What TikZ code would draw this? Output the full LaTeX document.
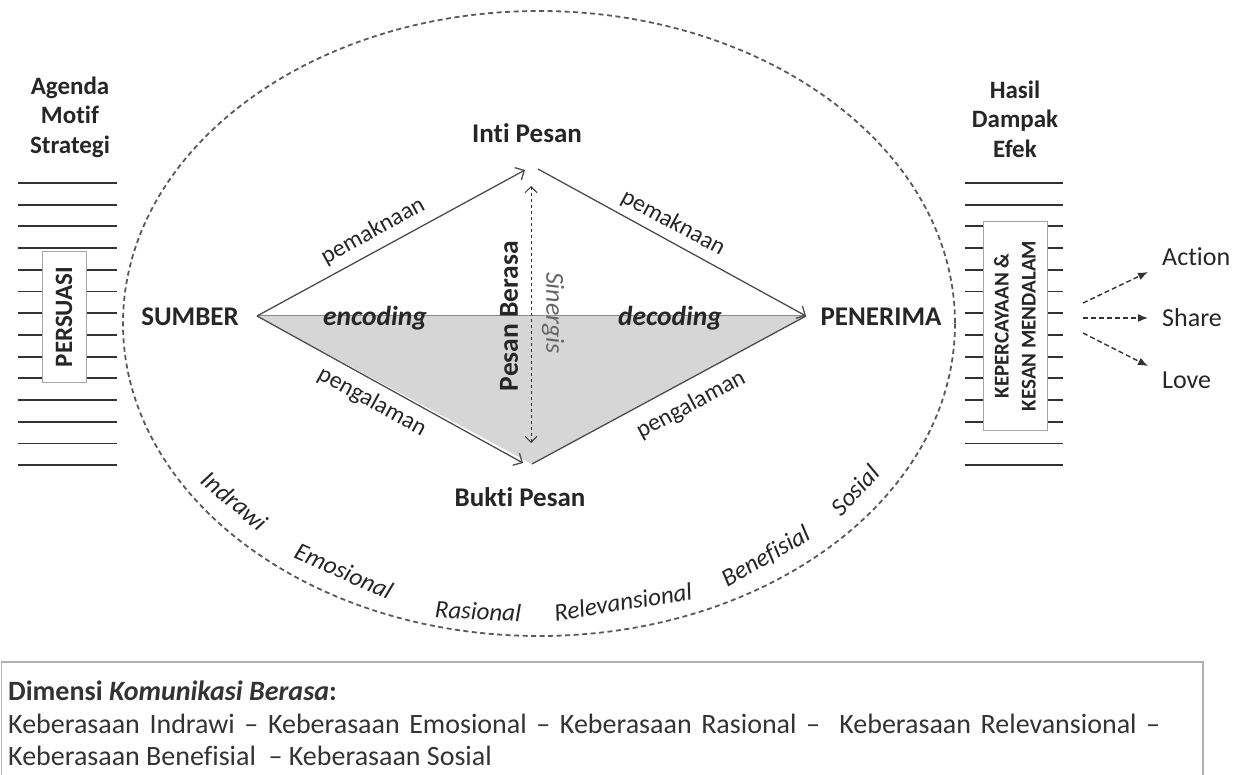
\documentclass[tikz,border=0pt]{standalone}
\usepackage{fontspec}
\setmainfont{Carlito}[Ligatures={TeX,NoCommon}]
\usetikzlibrary{arrows.meta}
\begin{document}
\begin{tikzpicture}[x=1pt,y=-1pt,
  big/.style={font=\fontsize{27}{30}\selectfont\bfseries, inner sep=0pt, text=black!85},
  head/.style={font=\fontsize{25}{29.5}\selectfont\bfseries, inner sep=0pt, align=center, text=black!85},
  edgelbl/.style={font=\fontsize{24}{26}\selectfont, inner sep=0pt, text=black!85},
  codelbl/.style={font=\fontsize{27.5}{30}\selectfont\bfseries\itshape, inner sep=0pt, text=black!85},
  dimlbl/.style={font=\fontsize{25}{28}\selectfont\itshape, inner sep=0pt, text=black!85},
  outlbl/.style={font=\fontsize{26}{28}\selectfont, inner sep=0pt, anchor=west, text=black!85},
  boxtxt/.style={font=\fontsize{28}{33}\selectfont, inner sep=0pt, anchor=base west, text=black!80},
  stackline/.style={line width=1.8pt, draw=black!80},
  edge/.style={line width=1.3pt, draw=black!70},
  tip/.style={-{Straight Barb[length=7pt,width=14pt,line width=1.3pt]}},
  sinarrow/.style={dashed, line width=1pt, draw=black!80, {Straight Barb[length=6pt,width=12pt]}-{Straight Barb[length=6pt,width=12pt]}},
  fanarrow/.style={dash pattern=on 5pt off 3pt, line width=1.4pt, draw=black!80, -{Latex[length=10pt,width=8pt]}},
  inbox/.style={draw=black!35, line width=1pt, fill=white}
]
\useasboundingbox (0,0) rectangle (1241,775);

% ellipse
\draw[dash pattern=on 5pt off 3.5pt, line width=1.8pt, draw=black!65] (539,323.5) ellipse [x radius=416, y radius=312.5];

% left stack
\foreach \k in {0,...,13} \draw[stackline] (18,183+21.7*\k) -- (117,183+21.7*\k);
\node[inbox, minimum width=44pt, minimum height=130pt, inner sep=0pt] (persbox) at (64,317) {};
\node[font=\fontsize{25}{28}\selectfont\bfseries, rotate=90, text=black!85] (persuasi) at (persbox.center) {PERSUASI};
\node[head] (agenda) at (70,117) {Agenda\\Motif\\Strategi};

% right stack
\foreach \k in {0,...,13} \draw[stackline] (965,183+21.7*\k) -- (1063,183+21.7*\k);
\node[inbox, minimum width=64pt, minimum height=208pt, inner sep=0pt] (kepbox) at (1015,326) {};
\node[font=\fontsize{21}{27}\selectfont\bfseries, rotate=90, align=center, text=black!85] (kep) at (kepbox.center) {KEPERCAYAAN \&\\KESAN MENDALAM};
\node[head] (hasil) at (1015,119) {Hasil\\Dampak\\Efek};

% diamond
\coordinate (S) at (257,316);
\coordinate (Ttip) at (525,170);
\coordinate (Tstart) at (538,169);
\coordinate (R) at (806,316);
\coordinate (B) at (532,464);
\coordinate (Btip) at (523,463);
\fill[black!16] (S) -- (R) -- (B) -- cycle;
\draw[line width=1pt, draw=black!45] (S) -- (R);
\draw[edge, tip] (S) -- (Ttip);
\draw[edge, tip] (Tstart) -- (R);
\draw[edge, tip] (S) -- (Btip);
\draw[edge] (B) -- (R);

\node[big] (sumber) at (190,317) {SUMBER};
\node[big] (penerima) at (881,317) {PENERIMA};
\node[big] (inti) at (527,133) {Inti Pesan};
\node[big] (bukti) at (520,497) {Bukti Pesan};

\coordinate (sg1) at (531,186);
\coordinate (sg2) at (531,443);
\draw[sinarrow] (sg1) -- (sg2);
\node[font=\fontsize{27.5}{30}\selectfont\bfseries, rotate=90, text=black!85, inner sep=0pt] (pb) at (509,316) {Pesan Berasa};
\node[font=\fontsize{26}{28}\selectfont\itshape, rotate=-90, text=black!60, inner sep=0pt] (sin) at (553,313) {Sinergis};

\node[codelbl] (enc) at (375,318) {encoding};
\node[codelbl] (dec) at (670,318) {decoding};

\node[edgelbl, rotate=28.7] (pm1) at (373,231) {pemaknaan};
\node[edgelbl, rotate=-28.6] (pm2) at (673,223) {pemaknaan};
\node[edgelbl, rotate=-28.7] (pg1) at (372,402) {pengalaman};
\node[edgelbl, rotate=28.0] (pg2) at (691,405) {pengalaman};

% ellipse dimension labels
\node[dimlbl, rotate=-40] (d1) at (235,501) {Indrawi};
\node[dimlbl, rotate=-24] (d2) at (344,571) {Emosional};
\node[dimlbl, rotate=-3] (d3) at (478,611) {Rasional};
\node[dimlbl, rotate=9] (d4) at (623,602) {Relevansional};
\node[dimlbl, rotate=30] (d5) at (766,557) {Benefisial};
\node[dimlbl, rotate=47] (d6) at (855,490) {Sosial};

% fan arrows
\coordinate (fa) at (1083,303);
\coordinate (fs) at (1083,318);
\coordinate (fl) at (1083,333);
\node[outlbl] (action) at (1162,257) {Action};
\node[outlbl] (share) at (1162,318) {Share};
\node[outlbl] (love) at (1162,380) {Love};
\draw[fanarrow] (fa) -- (1148,272);
\draw[fanarrow] (fs) -- (1148,318);
\draw[fanarrow] (fl) -- (1148,366);

% bottom box
\draw[draw=black!30, line width=1.2pt] (1.5,780) -- (1.5,662) -- (1203,662) -- (1203,780);
\node[boxtxt] (l1) at (8,700) {\textbf{Dimensi \textit{Komunikasi Berasa}:}};
\node[boxtxt] (l2) at (8,733) {\makebox[1152pt][s]{Keberasaan Indrawi \textendash{} Keberasaan Emosional \textendash{} Keberasaan Rasional \textendash\ \ Keberasaan Relevansional \textendash}};
\node[boxtxt] (l3) at (8,765) {Keberasaan Benefisial\ \ \textendash{} Keberasaan Sosial};
\end{tikzpicture}
\end{document}
